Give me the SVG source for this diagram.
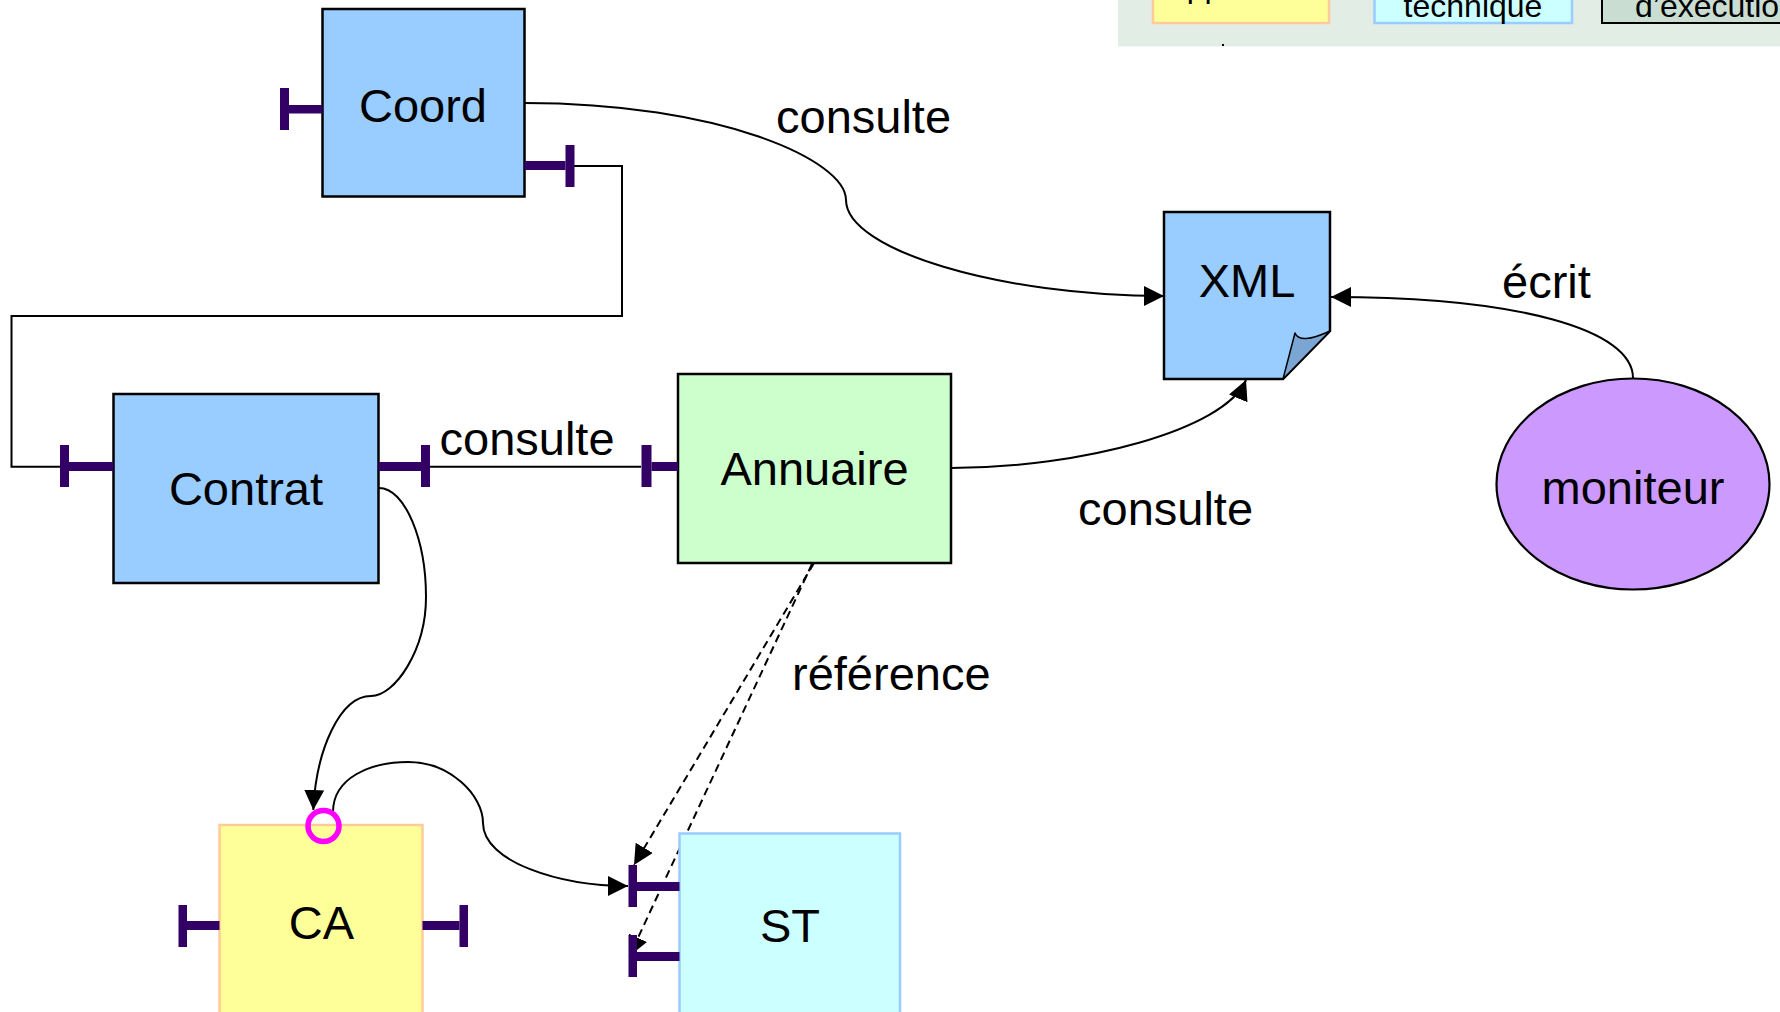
<svg xmlns="http://www.w3.org/2000/svg" width="1780" height="1012" viewBox="0 0 1780 1012">
<style>
  text { font-family: "Liberation Sans", Arial, sans-serif; fill: #000; }
  .lbl { font-size: 47px; }
  .node { font-size: 47px; text-anchor: middle; }
  .leg { font-size: 32px; }
  .port { fill: #330066; }
  .blue { fill: #99ccff; stroke: #000; stroke-width: 2.5; }
  .conn { fill: none; stroke: #000; stroke-width: 2; }
  .dash { fill: none; stroke: #000; stroke-width: 2; stroke-dasharray: 8 5; }
</style>
<defs>
  <marker id="arr" markerUnits="userSpaceOnUse" markerWidth="20" markerHeight="20" viewBox="0 0 20 20" refX="20" refY="10" orient="auto">
    <path d="M0,0 L20,10 L0,20 Z" fill="#000"/>
  </marker>
</defs>
<rect width="1780" height="1012" fill="#fff"/>

<g id="legend">
  <rect x="1118" y="-5" width="670" height="51.5" fill="#e2ede6"/>
  <rect x="1153" y="-20" width="176" height="43" fill="#ffff99" stroke="#ffcc99" stroke-width="2.5"/>
  <text class="leg" x="1169" y="-3">application</text>
  <rect x="1374.5" y="-20" width="197.5" height="43" fill="#ccffff" stroke="#99ccff" stroke-width="2.5"/>
  <text class="leg" x="1473" y="16.5" text-anchor="middle">technique</text>
  <rect x="1602" y="-20" width="200" height="43" fill="#c9ddd2" stroke="#000" stroke-width="2"/>
  <text class="leg" x="1635" y="16.5">d’exécution</text>
  <rect x="1222" y="44" width="2" height="2" fill="#000"/>
</g>

<g id="connectors">
  <path class="conn" d="M574,166 H622 V316 H11.5 V466.7 H60"/>
  <path class="conn" d="M430,466.7 H641"/>
  <path class="conn" marker-end="url(#arr)" d="M524.5,103 C720,103 846,160 846,200 C846,250 1000,296 1164,296"/>
  <path class="conn" marker-end="url(#arr)" d="M951,468 C1080,468 1225,430 1246,380"/>
  <path class="conn" marker-end="url(#arr)" d="M1633,378 C1633,330 1520,297 1331,297"/>
  <path class="conn" marker-end="url(#arr)" d="M379,488 C405,488 426,540 426,597 C426,650 395,696 371,696 C340,696 316,750 313.3,810"/>
  <path class="conn" marker-end="url(#arr)" d="M333,812 C333,778 370,762 408,762 C450,762 483,795 483,823 C483,862 560,886 628,886"/>
  <path class="dash" marker-end="url(#arr)" d="M814,563 L634,865"/>
  <path class="dash" marker-end="url(#arr)" d="M812,564 L629.5,956"/>
  <text class="lbl" x="776" y="133">consulte</text>
  <text class="lbl" x="439.5" y="455">consulte</text>
  <text class="lbl" x="1078" y="525">consulte</text>
  <text class="lbl" x="1502" y="298">écrit</text>
  <text class="lbl" x="792" y="690">référence</text>
</g>

<g id="Coord">
  <rect class="blue" x="322.5" y="9" width="202" height="187.5"/>
  <rect class="port" x="280" y="88" width="9" height="42"/>
  <rect class="port" x="289" y="105" width="33.5" height="8.5"/>
  <rect class="port" x="524.5" y="161" width="41" height="9"/>
  <rect class="port" x="565.5" y="145" width="9" height="42"/>
  <text class="node" x="423" y="121.5">Coord</text>
</g>

<g id="Contrat">
  <rect class="blue" x="113.5" y="394" width="265" height="189"/>
  <rect class="port" x="60" y="445" width="9" height="42"/>
  <rect class="port" x="69" y="462" width="44.5" height="9"/>
  <rect class="port" x="378.5" y="462" width="42.5" height="9"/>
  <rect class="port" x="421" y="445" width="9" height="42"/>
  <text class="node" x="246" y="505">Contrat</text>
</g>

<g id="Annuaire">
  <rect x="678" y="374" width="273" height="189" fill="#ccffcc" stroke="#000" stroke-width="2.5"/>
  <rect class="port" x="641.5" y="445" width="10" height="42"/>
  <rect class="port" x="651.5" y="462" width="26.5" height="9"/>
  <text class="node" x="814.5" y="485">Annuaire</text>
</g>

<g id="XML">
  <path d="M1164,212 H1330 V331 L1283,379 H1164 Z" fill="#99ccff" stroke="#000" stroke-width="2.5" stroke-linejoin="miter"/>
  <path d="M1283,379 L1295,333 Q1300,345 1330,331 Z" fill="#7ba6d4" stroke="#000" stroke-width="1.5" stroke-linejoin="round"/>
  <text class="node" x="1247" y="297">XML</text>
</g>

<g id="moniteur">
  <ellipse cx="1633" cy="484" rx="136.5" ry="105.5" fill="#cc99ff" stroke="#000" stroke-width="2.2"/>
  <text class="node" x="1633" y="503.5">moniteur</text>
</g>

<g id="CA">
  <rect x="219.5" y="825" width="203" height="210" fill="#ffff99" stroke="#ffcc99" stroke-width="2.5"/>
  <rect class="port" x="178.5" y="905" width="8.5" height="42"/>
  <rect class="port" x="187" y="921" width="32.5" height="9"/>
  <rect class="port" x="422.5" y="921" width="37" height="9"/>
  <rect class="port" x="459.5" y="905" width="8.5" height="42"/>
  <circle cx="323.5" cy="826" r="15.5" fill="none" stroke="#ff00ff" stroke-width="5.5"/>
  <text class="node" x="321.5" y="938.5">CA</text>
</g>

<g id="ST">
  <rect x="679.5" y="833.5" width="220.5" height="200" fill="#ccffff" stroke="#99ccff" stroke-width="2.5"/>
  <rect class="port" x="628.5" y="865" width="8.5" height="42"/>
  <rect class="port" x="637" y="882" width="42.5" height="9"/>
  <rect class="port" x="628.5" y="935" width="8.5" height="42"/>
  <rect class="port" x="637" y="952" width="42.5" height="9"/>
  <text class="node" x="790" y="941.5">ST</text>
</g>
</svg>
